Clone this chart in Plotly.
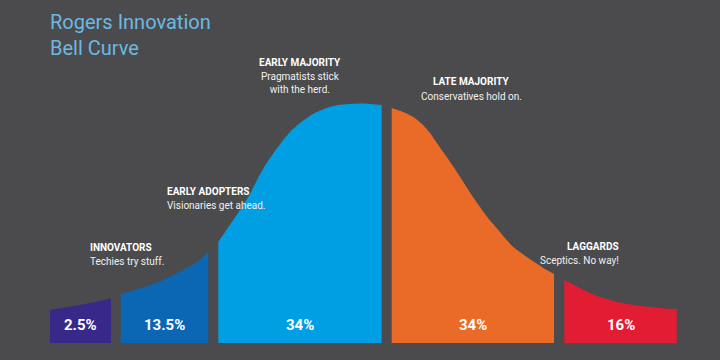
import plotly.graph_objects as go

# ---- data ----
segments = ["Innovators", "Early Adopters", "Early Majority", "Late Majority", "Laggards"]
titles = ["INNOVATORS", "EARLY ADOPTERS", "EARLY MAJORITY", "LATE MAJORITY", "LAGGARDS"]
descriptions = ["Techies try stuff.", "Visionaries get ahead.", "Pragmatists stick<br>with the herd.",
                "Conservatives hold on.", "Sceptics. No way!"]
shares = ["2.5%", "13.5%", "34%", "34%", "16%"]

# curve outline per segment (x position, curve height)
innov_x = [50, 65, 80, 95, 111]
innov_h = [33, 35.5, 38, 41, 44.5]
adopt_x = [120.7, 135, 150, 162, 173.3, 185, 197, 208.3]
adopt_h = [49, 53, 58, 62.5, 68, 74, 81, 91]
early_x = [218.3, 225, 233.3, 242, 250, 258, 266.7, 275, 283.3, 291, 300, 313, 326.7, 338, 350, 365, 381.7]
early_h = [101, 111, 123, 136, 149, 165, 180, 192, 203, 212, 220, 229, 235, 238, 239, 239.5, 238]
late_x = [391.7, 402, 413.3, 422, 430, 438, 446.7, 455, 463, 471, 480, 488, 497, 505, 513.3, 524, 535, 545, 554]
late_h = [235, 231.5, 226, 219, 210, 198.5, 186, 174, 161.5, 149, 136, 125, 114.5, 105, 96, 88, 80.5, 74, 69]
lagg_x = [564.3, 572, 580, 590, 600, 612, 622, 633.3, 645, 660, 676.7]
lagg_h = [63, 59, 55, 50, 46, 42.5, 40, 38, 36.5, 35, 34]

colors = ["#38288a", "#0b67b4", "#009ee2", "#ea6a28", "#e11c33"]
bg = "#4b4b4d"

xs = [innov_x, adopt_x, early_x, late_x, lagg_x]
hs = [innov_h, adopt_h, early_h, late_h, lagg_h]

fig = go.Figure()
for name, x, h, c in zip(segments, xs, hs, colors):
    fig.add_trace(go.Scatter(
        x=x, y=h, name=name, mode="lines", line=dict(color=c, width=0, shape="spline", smoothing=0.6),
        fill="tozeroy", fillcolor=c, hoverinfo="skip", showlegend=False))

# percentage labels inside each segment
for x, s in zip(xs, shares):
    fig.add_annotation(x=(x[0] + x[-1]) / 2, y=18, text="<b>" + s + "</b>", showarrow=False,
                       font=dict(family="Roboto", size=15, color="white"), xref="x", yref="y")

# category headings and descriptions (positioned in paper space)
label_pos = [(88, 247), (165, 191), (300, 62), (471, 82), (621, 246)]
for (px, py), t, d in zip(label_pos, titles, descriptions):
    fig.add_annotation(x=px / 720, y=1 - py / 360, xref="paper", yref="paper",
                       text="<b>" + t + "</b>", showarrow=False, yanchor="middle",
                       font=dict(family="Roboto", size=10, color="white"))
    fig.add_annotation(x=px / 720, y=1 - (py + 7) / 360, xref="paper", yref="paper",
                       text=d, showarrow=False, yanchor="top", align="center",
                       font=dict(family="Roboto", size=10, color="#f0f0f0"))

fig.add_annotation(x=48 / 720, y=1 - 8 / 360, xref="paper", yref="paper", xanchor="left", yanchor="top",
                   text="Rogers Innovation<br>Bell Curve", showarrow=False, align="left",
                   font=dict(family="Roboto", size=20, color="#6cb9e4"))

fig.update_layout(
    width=720, height=360, margin=dict(l=0, r=0, t=0, b=0),
    paper_bgcolor=bg, plot_bgcolor=bg,
    xaxis=dict(range=[0, 720], visible=False, fixedrange=True),
    yaxis=dict(range=[-17, 343], visible=False, fixedrange=True),
)
fig.write_html("out.html", config={"displayModeBar": False},
               post_script="document.body.style.margin='0';document.body.style.overflow='hidden';")
